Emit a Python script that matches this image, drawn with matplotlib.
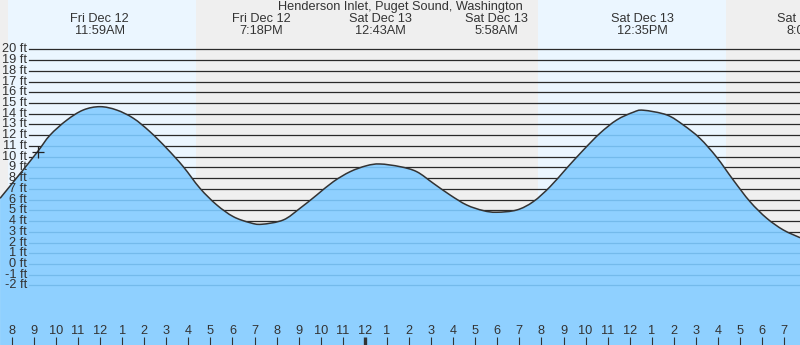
import matplotlib
matplotlib.use("Agg")
import matplotlib.pyplot as plt
from matplotlib.path import Path
from matplotlib.patches import PathPatch
from matplotlib.transforms import blended_transform_factory

title = "Henderson Inlet, Puget Sound, Washington"

# high / low tide events, hours counted from midnight Fri Dec 12
event_hours = [11.98, 19.30, 24.72, 29.97, 36.58, 44.08]
event_days = ["Fri Dec 12", "Fri Dec 12", "Sat Dec 13", "Sat Dec 13", "Sat Dec 13", "Sat Dec 13"]
event_times = ["11:59AM", "7:18PM", "12:43AM", "5:58AM", "12:35PM", "8:05PM"]

# daylight (sunrise, sunset)
day_spans = [(7.82, 16.35), (31.83, 40.36)]

# predicted water level
tide_hours = [7.47, 8.37, 9.17, 9.73, 10.49, 11.24, 12.00, 12.75, 13.51, 14.26,
              15.02, 15.77, 16.53, 17.29, 18.04, 18.79, 19.32, 20.30, 21.06, 21.82,
              22.57, 23.33, 24.08, 24.68, 25.59, 26.35, 27.10, 27.86, 28.61, 29.37,
              29.97, 30.88, 31.63, 32.39, 33.14, 33.90, 34.65, 35.41, 36.16, 36.61,
              37.68, 38.43, 39.18, 39.94, 40.69, 41.45, 42.21, 42.96, 43.72]
tide_ft = [6.12, 8.40, 10.47, 12.00, 13.40, 14.35, 14.66, 14.35, 13.58, 12.33,
           10.78, 9.07, 7.05, 5.50, 4.41, 3.85, 3.70, 4.10, 5.19, 6.43,
           7.67, 8.60, 9.16, 9.32, 9.07, 8.60, 7.52, 6.43, 5.50, 4.97,
           4.82, 5.03, 5.81, 7.20, 8.92, 10.62, 12.18, 13.42, 14.14, 14.33,
           13.89, 12.95, 11.71, 9.95, 7.83, 5.81, 4.26, 3.17, 2.45]

# current time marker
now_hour = 9.17
now_ft = 10.47

ft_levels = list(range(-2, 21))
hour_ticks = list(range(8, 44))

night_color = "#efefef"
day_color = "#ebf6ff"
water_color = "#8fd0ff"
water_grid = "#74baeb"
text_color = "#333333"
font = dict(fontsize=9.2, color=text_color, family="Liberation Sans")


def smooth_path(xs, ys):
    # Catmull-Rom through the readings, written as cubic Bezier segments
    pts = list(zip(xs, ys))
    verts = [pts[0]]
    codes = [Path.MOVETO]
    for i in range(len(pts) - 1):
        p0 = pts[max(i - 1, 0)]
        p1 = pts[i]
        p2 = pts[i + 1]
        p3 = pts[min(i + 2, len(pts) - 1)]
        c1 = (p1[0] + (p2[0] - p0[0]) / 6, p1[1] + (p2[1] - p0[1]) / 6)
        c2 = (p2[0] - (p3[0] - p1[0]) / 6, p2[1] - (p3[1] - p1[1]) / 6)
        verts += [c1, c2, p2]
        codes += [Path.CURVE4] * 3
    return verts, codes


fig = plt.figure(figsize=(8, 3.45), dpi=100)
ax = fig.add_axes([0, 0, 1, 1])
ax.set_xlim(7.467, 7.467 + 800 / 22.07)
ax.set_ylim(-7.55, 24.6)
ax.axis("off")
ax.add_patch(plt.Rectangle((0, 0), 1, 1, transform=ax.transAxes,
                           color=night_color, zorder=0))
for start, end in day_spans:
    ax.axvspan(start, end, color=day_color, lw=0, zorder=0.5)

label_tf = blended_transform_factory(ax.transAxes, ax.transData)
for lvl in ft_levels:
    ax.axhline(lvl, xmin=29 / 800, xmax=1, color="#2a2a2a", lw=0.9, zorder=1)
    ax.text(27 / 800, lvl, f"{lvl} ft", transform=label_tf, ha="right",
            va="center", zorder=5, **font)

verts, codes = smooth_path(tide_hours, tide_ft)
line_path = Path(verts, codes)
fill_path = Path(verts + [(tide_hours[-1], -20), (tide_hours[0], -20), verts[0]],
                 codes + [Path.LINETO, Path.LINETO, Path.CLOSEPOLY])
water = PathPatch(fill_path, facecolor=water_color, lw=0, zorder=2)
ax.add_patch(water)
for lvl in ft_levels:
    ln = ax.axhline(lvl, xmin=29 / 800, xmax=1, color=water_grid, lw=0.9, zorder=3)
    ln.set_clip_path(water)
ax.add_patch(PathPatch(line_path, facecolor="none", edgecolor="#333333",
                       lw=1.1, zorder=4))

ax.plot([now_hour], [now_ft], marker="+", ms=9, mew=0.9, color="#222222", zorder=6)

top_tf = ax.get_xaxis_transform()
ax.text(0.5, 1 - 7 / 345, title, transform=ax.transAxes, ha="center",
        va="center", **font)
for h, d, t in zip(event_hours, event_days, event_times):
    ax.text(h, 1 - 19.5 / 345, d, transform=top_tf, ha="center", va="center", **font)
    ax.text(h, 1 - 31.5 / 345, t, transform=top_tf, ha="center", va="center", **font)

# hour ticks along the bottom, midnight drawn heavier
for h in hour_ticks:
    lw = 2.4 if h % 24 == 0 else 0.8
    ax.vlines(h, 0, 8 / 345, transform=top_tf, color="#333333", lw=lw, zorder=6)
    ax.text(h, 14 / 345, str((h - 1) % 12 + 1), transform=top_tf, ha="center",
            va="center", zorder=6, **font)

fig.savefig("out.png", dpi=100)
